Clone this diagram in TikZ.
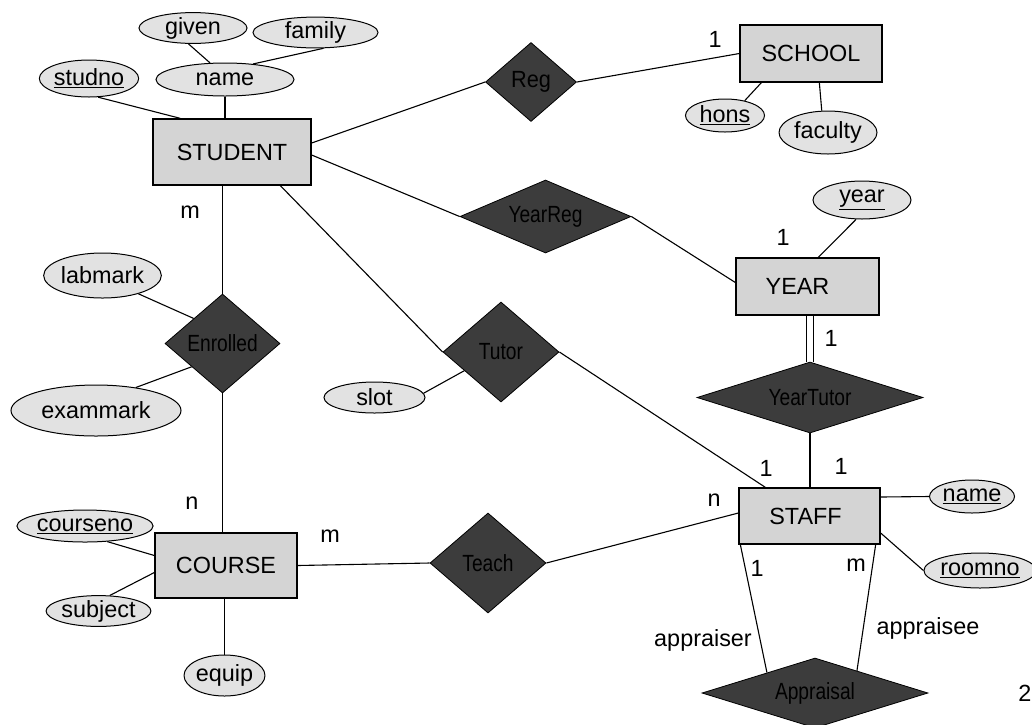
\documentclass[tikz,border=0pt]{standalone}
\usepackage{fontspec}
\setmainfont{Liberation Sans}
\usepackage{graphicx}
\usetikzlibrary{shapes.geometric,calc,backgrounds}

\definecolor{entfill}{RGB}{212,212,212}
\definecolor{attfill}{RGB}{226,226,226}
\definecolor{relfill}{RGB}{60,60,60}
\definecolor{reltext}{RGB}{0,0,0}
\newcommand{\narrowtext}[2][0.82]{\scalebox{#1}[1]{\textcolor{reltext}{#2}}}

\begin{document}
\begin{tikzpicture}[x=1pt,y=-1pt,
  every node/.style={font=\fontsize{23.4}{28}\selectfont},
  entity/.style 2 args={rectangle, draw, line width=1.3pt, fill=entfill,
    minimum width=#1pt, minimum height=#2pt, inner sep=0pt},
  attr/.style 2 args={ellipse, draw, line width=1pt, fill=attfill,
    minimum width=#1pt, minimum height=#2pt, inner sep=0pt},
  rel/.style 2 args={diamond, draw, line width=0.8pt, fill=relfill, aspect=2,
    minimum width=#1pt, minimum height=#2pt, inner sep=0pt, text=reltext},
  card/.style={inner sep=0pt},
  link/.style={draw, line width=1.1pt}]

\useasboundingbox (0,0) rectangle (1032,724);

% entities
\node[entity={158}{66}] (STUDENT) at (232,152) {STUDENT};
\node[entity={142}{57}] (SCHOOL) at (811,53.5) {SCHOOL};
\node[entity={143}{57}] (YEAR) at (807.5,286.5) {\hspace*{-20pt}YEAR};
\node[entity={141}{56}] (STAFF) at (809.5,516) {\hspace*{-8pt}STAFF};
\node[entity={142}{65}] (COURSE) at (226,565.5) {COURSE};

% attributes
\node[attr={98}{37}] (studno) at (89,78.5) {\underline{studno}};
\node[attr={138}{33}] (name) at (225,79.5) {name};
\node[attr={108}{28}] (given) at (193,28) {given};
\node[attr={125}{29}] (family) at (315.5,32.5) {family};
\node[attr={79}{33}] (hons) at (725,115.5) {\underline{hons}};
\node[attr={98}{43}] (faculty) at (828,132.5) {faculty};
\node[attr={98}{38}] (year) at (862,200) {\underline{year}};
\node[attr={111}{45}] (labmark) at (102.5,275.5) {labmark};
\node[attr={170}{51}] (exammark) at (96,410.5) {exammark};
\node[attr={101}{31}] (slot) at (374.5,397.5) {slot};
\node[attr={85}{33}] (sname) at (972,496.5) {\underline{name}};
\node[attr={102}{35}] (roomno) at (980,570.5) {\underline{roomno}};
\node[attr={126}{32}] (courseno) at (85,526) {\underline{courseno}};
\node[attr={97}{30}] (subject) at (98.5,611) {subject};
\node[attr={73}{41}] (equip) at (224.5,675.5) {equip};

% relationships
\node[rel={91}{79}] (Reg) at (531,82) {\narrowtext[0.93]{Reg}};
\node[rel={171}{73}] (YearReg) at (545.5,216.5) {\narrowtext{YearReg}};
\node[rel={115}{99}] (Enrolled) at (222.5,343.5) {\narrowtext{Enrolled}};
\node[rel={116}{100}] (Tutor) at (501,352) {\narrowtext{Tutor}};
\node[rel={226}{71}] (YearTutor) at (810,397.5) {\narrowtext{YearTutor}};
\node[rel={116}{100}] (Teach) at (488,563) {\narrowtext{Teach}};
\node[rel={226}{70}] (Appraisal) at (815,693) {\narrowtext{Appraisal}};

% connectors
\begin{scope}[on background layer]
  \draw[link] (studno.-64) -- ([xshift=28pt]STUDENT.north west);
  \draw[link] (name.south) -- (name.south |- STUDENT.north);
  \draw[link] (given.-106) -- (name.132);
  \draw[link] (family.-63) -- (name.29);
  \draw[link] ([yshift=9pt]STUDENT.east) -- (Reg.west);
  \draw[link] (Reg.east) -- (SCHOOL.west);
  \draw[link] ([xshift=22pt]SCHOOL.south west) -- (hons.37);
  \draw[link] ([xshift=80pt]SCHOOL.south west) -- (faculty.106);
  \draw[link] ([yshift=-3pt]STUDENT.east) -- (YearReg.west);
  \draw[link] (YearReg.east) -- ([yshift=4pt]YEAR.west);
  \draw[link] ([xshift=83pt]YEAR.north west) -- (year.-107);
  \draw[link, double, double distance=5.5pt] (YearTutor.north) -- (YearTutor.north |- YEAR.south);
  \draw[link] (YearTutor.south) -- (YearTutor.south |- STAFF.north);
  \draw[link] (Enrolled.north) -- (Enrolled.north |- STUDENT.south);
  \draw[link] (Enrolled.south) -- (Enrolled.south |- COURSE.north);
  \draw[link] (labmark.-27) -- (Enrolled.139);
  \draw[link] (exammark.30) -- (Enrolled.-143);
  \draw[link] ([xshift=128pt]STUDENT.south west) -- (Tutor.west);
  \draw[link] (slot.5) -- (Tutor.-153);
  \draw[link] (Tutor.east) -- ([xshift=27pt]STAFF.north west);
  \draw[link] ([yshift=19pt]STAFF.east) -- (sname.west);
  \draw[link] ([yshift=-17pt]STAFF.east) -- (roomno.west);
  \draw[link] (Teach.east) -- ([yshift=3pt]STAFF.west);
  \draw[link] (COURSE.east) -- (Teach.west);
  \draw[link] (courseno.-35) -- ([yshift=10pt]COURSE.west);
  \draw[link] (subject.54) -- ([yshift=-7pt]COURSE.west);
  \draw[link] (equip.north) -- (equip.north |- COURSE.south);
  \draw[link] ([xshift=2pt]STAFF.south west) -- (Appraisal.157);
  \draw[link] ([xshift=-5pt]STAFF.south east) -- (Appraisal.28);
\end{scope}

% cardinalities and role names
\node[card] (cStudEnr) at (190,212) {m};
\node[card] (cSchool) at (715,39) {1};
\node[card] (cYearReg) at (783,237) {1};
\node[card] (cYearTut) at (831,338) {1};
\node[card] (cStaffTut) at (766,468) {1};
\node[card] (cStaffYT) at (841,466) {1};
\node[card] (cCourseEnr) at (192,503) {n};
\node[card] (cCourseTeach) at (330,536) {m};
\node[card] (cStaffTeach) at (714,500) {n};
\node[card] (cAppraiser) at (757,568) {1};
\node[card] (cAppraisee) at (856,565) {m};
\node[card] (rAppraiser) at (703,640) {appraiser};
\node[card] (rAppraisee) at (928,628) {appraisee};
\node[card, anchor=east] (pageno) at (1031.5,693) {2};
\end{tikzpicture}
\end{document}
